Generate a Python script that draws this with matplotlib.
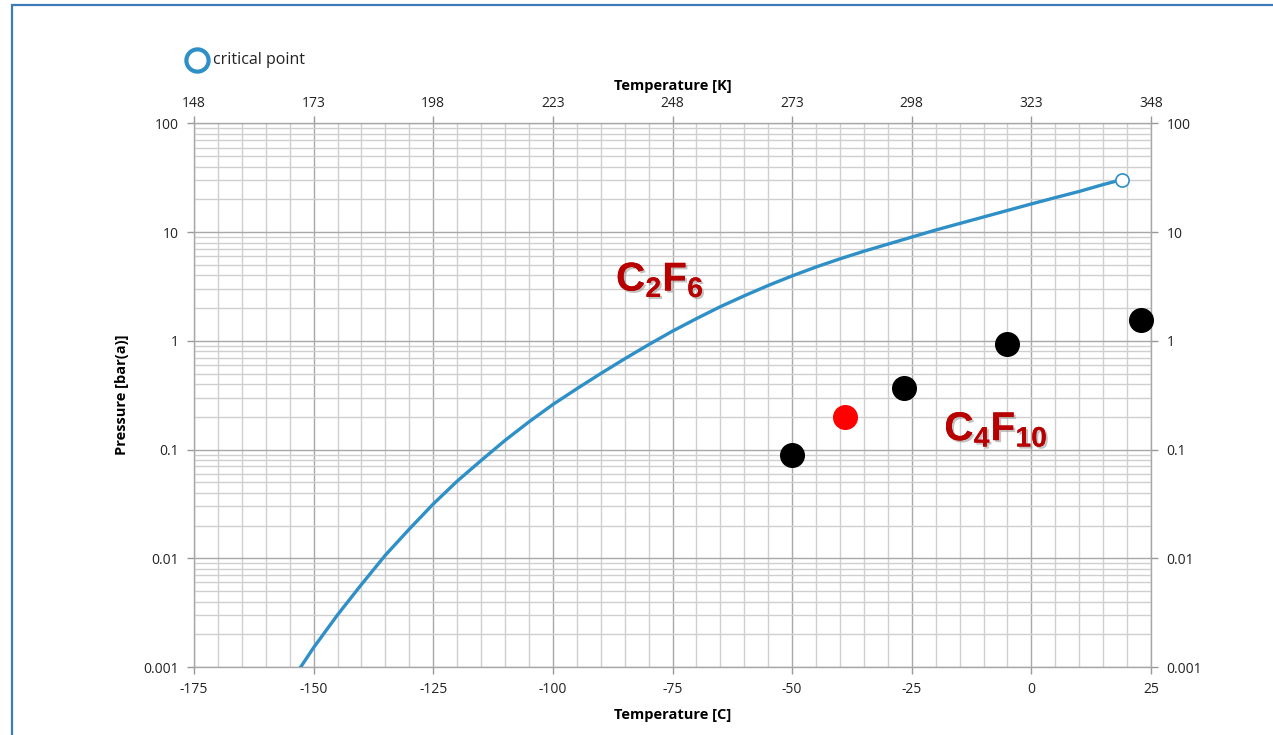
import matplotlib
matplotlib.use("Agg")
import matplotlib.pyplot as plt
import matplotlib.patheffects as pe
from matplotlib.patches import Rectangle
from matplotlib.lines import Line2D
from matplotlib.ticker import FixedLocator, LogLocator, NullFormatter
from matplotlib import font_manager

# C2F6 saturation curve, temperature [C] vs pressure [bar(a)]
c2f6_temp = [-152.7, -150, -145, -140, -135, -130, -125, -120, -115, -110, -105,
             -100, -95, -90, -85, -80, -75, -70, -65, -60, -55, -50, -45, -40,
             -35, -30, -25, -20, -15, -10, -5, 0, 5, 10, 15, 19.0]
c2f6_pres = [0.0010, 0.00151, 0.00302, 0.00575, 0.0107, 0.0186, 0.0316, 0.0513,
             0.0794, 0.1216, 0.180, 0.260, 0.363, 0.501, 0.684, 0.923, 1.230,
             1.603, 2.065, 2.600, 3.236, 3.963, 4.786, 5.689, 6.683, 7.762,
             9.016, 10.47, 12.02, 13.80, 15.85, 18.20, 20.80, 23.71, 27.42, 30.5]
critical_temp = 19.0
critical_pres = 30.5

# C4F10 vapour pressure points
c4f10_temp = [-50.0, -26.7, -5.1, 22.9]
c4f10_pres = [0.090, 0.365, 0.93, 1.57]
highlight_temp = [-38.9]
highlight_pres = [0.20]

bottom_ticks = [-175, -150, -125, -100, -75, -50, -25, 0, 25]
top_labels = ["148", "173", "198", "223", "248", "273", "298", "323", "348"]
y_ticks = [0.001, 0.01, 0.1, 1, 10, 100]
y_labels = ["0.001", "0.01", "0.1", "1", "10", "100"]

names = {f.name for f in font_manager.fontManager.ttflist}
base_font = "Open Sans" if "Open Sans" in names else "DejaVu Sans"

plt.rcParams["font.family"] = [base_font, "DejaVu Sans"]
plt.rcParams["mathtext.fontset"] = "custom"
plt.rcParams["mathtext.bf"] = "Liberation Sans:bold"
plt.rcParams["mathtext.rm"] = "Liberation Sans:bold"

curve_blue = "#2f8fc7"
tick_color = "#222222"

fig = plt.figure(figsize=(12.73, 7.35), dpi=100)
ax = fig.add_axes([0.1524, 0.0925, 0.7518, 0.7395])

ax.set_yscale("log")
ax.set_xlim(-175, 25)
ax.set_ylim(0.001, 100)

# grid: every 5 C, log minors
ax.xaxis.set_major_locator(FixedLocator(bottom_ticks))
ax.xaxis.set_minor_locator(FixedLocator(list(range(-175, 26, 5))))
ax.yaxis.set_major_locator(FixedLocator(y_ticks))
ax.yaxis.set_minor_locator(LogLocator(base=10, subs=range(2, 10)))
ax.yaxis.set_minor_formatter(NullFormatter())
ax.set_xticklabels([str(t) for t in bottom_ticks])
ax.set_yticklabels(y_labels)
ax.grid(which="minor", color="#cfcfcf", linewidth=1.0)
ax.grid(which="major", color="#a8a8a8", linewidth=1.0)
ax.set_axisbelow(True)
for s in ax.spines.values():
    s.set_color("#a8a8a8")
    s.set_linewidth(1.0)

ax.tick_params(which="major", length=5, width=1, color="#999999",
               labelsize=10, labelcolor=tick_color, pad=6,
               left=True, right=True, top=False, bottom=True,
               labelleft=True, labelright=True)
ax.tick_params(which="minor", length=0)

# Kelvin labels on top
top = ax.secondary_xaxis("top")
top.xaxis.set_major_locator(FixedLocator(bottom_ticks))
top.set_xticklabels(top_labels)
top.tick_params(length=5, width=1, color="#999999", labelsize=10,
                labelcolor=tick_color, pad=4)
top.spines["top"].set_visible(False)

ax.set_xlabel("Temperature [C]", fontweight="bold", fontsize=10.5, labelpad=8)
top.set_xlabel("Temperature [K]", fontweight="bold", fontsize=10.5, labelpad=4)
ax.set_ylabel("Pressure [bar(a)]", fontweight="bold", fontsize=10.5, labelpad=10)

# saturation curve and critical point
ax.plot(c2f6_temp, c2f6_pres, color=curve_blue, linewidth=2.4,
        solid_joinstyle="round", zorder=3)
ax.plot([critical_temp], [critical_pres], "o", markersize=9.5,
        markerfacecolor="white", markeredgecolor=curve_blue,
        markeredgewidth=1.2, zorder=4)

# C4F10 points
ax.plot(c4f10_temp, c4f10_pres, "o", color="black", markersize=17,
        linestyle="none", zorder=5, clip_on=False)
ax.plot(highlight_temp, highlight_pres, "o", color="#ff0000", markersize=17,
        linestyle="none", zorder=5)

shadow = [pe.withSimplePatchShadow(offset=(1.5, -1.5), shadow_rgbFace="#888888",
                                   alpha=0.5), pe.Normal()]
ax.text(-86.8, 2.9, r"$\mathbf{C_2F_6}$", color="#b80000", fontsize=29,
        ha="left", va="baseline", path_effects=shadow, zorder=6)
ax.text(-18.2, 0.122, r"$\mathbf{C_4F_{10}}$", color="#b80000", fontsize=29,
        ha="left", va="baseline", path_effects=shadow, zorder=6)

# legend entry
fig.add_artist(Line2D([197 / 1273], [1 - 60 / 735], marker="o", markersize=16,
                      markerfacecolor="white", markeredgecolor=curve_blue,
                      markeredgewidth=3, linestyle="none",
                      transform=fig.transFigure))
fig.text(213 / 1273, 1 - 60 / 735, "critical point", fontsize=11.5,
         color="#222222", ha="left", va="center")

# outer frame
fig.add_artist(Rectangle((12 / 1273, -0.1), 1.2, 1.1 - 5 / 735,
                         transform=fig.transFigure, fill=False,
                         edgecolor="#3f7ab8", linewidth=1.6))

plt.savefig("out.png", dpi=100)
plt.close()
